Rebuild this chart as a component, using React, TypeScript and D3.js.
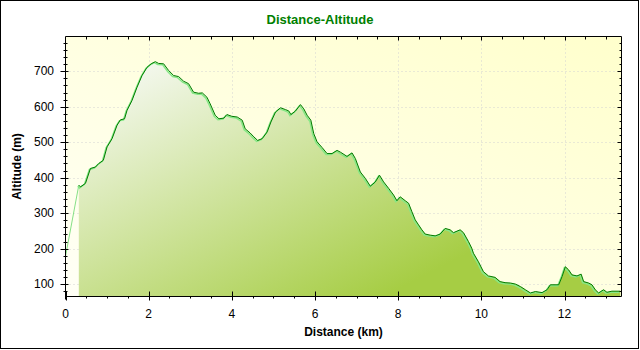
import React, { useEffect, useRef } from 'react';
import * as d3 from 'd3';

// track profile (km, m)
const distKm = [
  0, 0.32, 0.36, 0.48, 0.6, 0.72, 0.8, 0.91, 1.0, 1.12, 1.24, 1.32, 1.42, 1.48, 1.6, 1.72, 1.84, 1.96,
  2.06, 2.16, 2.24, 2.36, 2.48, 2.6, 2.72, 2.84, 2.96, 3.08, 3.2, 3.29, 3.4, 3.48, 3.6, 3.69, 3.81,
  3.88, 4.0, 4.13, 4.25, 4.32, 4.44, 4.53, 4.62, 4.73, 4.85, 4.94, 5.05, 5.17, 5.29, 5.37, 5.42,
  5.53, 5.65, 5.73, 5.81, 5.9, 5.97, 6.05, 6.17, 6.29, 6.41, 6.53, 6.61, 6.77, 6.89, 6.97, 7.09,
  7.21, 7.33, 7.45, 7.55, 7.65, 7.77, 7.89, 7.97, 8.05, 8.17, 8.25, 8.33, 8.41, 8.49, 8.57, 8.65,
  8.77, 8.89, 9.01, 9.13, 9.25, 9.33, 9.49, 9.57, 9.69, 9.77, 9.81, 9.93, 10.05, 10.17, 10.33,
  10.45, 10.57, 10.7, 10.82, 10.94, 11.06, 11.18, 11.3, 11.46, 11.58, 11.66, 11.86, 11.94, 12.02,
  12.1, 12.18, 12.3, 12.4, 12.46, 12.58, 12.66, 12.74, 12.82, 12.94, 13.02, 13.14, 13.34,
];
const altM = [
  178, 379, 374, 384, 426, 430, 440, 449, 487, 510, 548, 563, 566, 590, 618, 655, 688, 711,
  721, 727, 722, 721, 702, 688, 685, 672, 665, 641, 638, 639, 627, 608, 576, 566, 568,
  578, 573, 571, 562, 538, 526, 515, 505, 510, 529, 557, 585, 597, 592, 588, 578,
  588, 606, 594, 576, 562, 524, 501, 485, 468, 468, 477, 472, 460, 470, 454, 416,
  398, 376, 388, 407, 388, 370, 351, 335, 346, 335, 328, 304, 281, 267, 253, 241,
  238, 236, 241, 257, 253, 245, 253, 245, 220, 201, 187, 163, 135, 123, 119,
  107, 104, 103, 100, 93, 84, 75, 79, 76, 84, 98, 98, 121, 149,
  140, 126, 123, 128, 107, 103, 98, 84, 75, 84, 77, 80, 80,
];

const xTicks = [0, 2, 4, 6, 8, 10, 12];
const yTicks = [100, 200, 300, 400, 500, 600, 700];

const font = '"Liberation Sans", Arial, sans-serif';

export default function App() {
  const ref = useRef<SVGSVGElement>(null);

  useEffect(() => {
    const svg = d3.select(ref.current);
    svg.selectAll('*').remove();

    const left = 65.5, right = 621.5, top = 36.5, bottom = 296.5;

    const x = d3.scaleLinear().domain([0, 13.37]).range([left, right]);
    const y = d3.scaleLinear().domain([65, 798]).range([bottom, top]);

    const pts = distKm.map((d, i) => ({ d, a: altM[i] }));
    const body = pts.slice(1);

    const defs = svg.append('defs');
    const bg = defs.append('linearGradient').attr('id', 'bg')
      .attr('x1', 0).attr('y1', 1).attr('x2', 1).attr('y2', 0);
    bg.append('stop').attr('offset', 0).attr('stop-color', '#fffff6');
    bg.append('stop').attr('offset', 1).attr('stop-color', '#ffffcc');

    const fill = defs.append('linearGradient').attr('id', 'fill')
      .attr('gradientUnits', 'userSpaceOnUse')
      .attr('x1', 150).attr('y1', 50).attr('x2', 300).attr('y2', 340);
    fill.append('stop').attr('offset', 0).attr('stop-color', '#f6f9f3');
    fill.append('stop').attr('offset', 1).attr('stop-color', '#a6cd44');

    svg.append('rect').attr('width', 640).attr('height', 350).attr('fill', '#fff');
    svg.append('rect').attr('x', 0.5).attr('y', 0.5).attr('width', 638).attr('height', 348)
      .attr('fill', 'none').attr('stroke', '#000');

    svg.append('rect').attr('x', left).attr('y', top)
      .attr('width', right - left).attr('height', bottom - top).attr('fill', 'url(#bg)');

    // grid
    const grid = svg.append('g').attr('stroke', '#d2d2d2').attr('stroke-dasharray', '1,3');
    grid.selectAll('.gx').data(xTicks.slice(1)).join('line')
      .attr('x1', (d) => Math.round(x(d)) + 0.5).attr('x2', (d) => Math.round(x(d)) + 0.5)
      .attr('y1', top).attr('y2', bottom);
    grid.selectAll('.gy').data(yTicks).join('line')
      .attr('y1', (d) => Math.round(y(d)) + 0.5).attr('y2', (d) => Math.round(y(d)) + 0.5)
      .attr('x1', left).attr('x2', right);

    const area = d3.area<{ d: number; a: number }>()
      .x((p) => x(p.d)).y0(bottom).y1((p) => y(p.a));
    const line = d3.line<{ d: number; a: number }>()
      .x((p) => x(p.d)).y((p) => y(p.a));

    svg.append('path').datum(body).attr('d', area).attr('fill', 'url(#fill)');

    // lead-in segment only in light green
    svg.append('path').datum(pts.slice(0, 2)).attr('d', line)
      .attr('fill', 'none').attr('stroke', '#86e086').attr('stroke-width', 1);

    svg.append('path').datum(body).attr('d', line)
      .attr('transform', 'translate(-1,1)')
      .attr('fill', 'none').attr('stroke', '#86e886').attr('stroke-width', 1.5);
    svg.append('path').datum(body).attr('d', line)
      .attr('fill', 'none').attr('stroke', '#007a00').attr('stroke-width', 1);

    // frame
    const frame = svg.append('g').attr('stroke', '#000').attr('fill', 'none');
    frame.append('line').attr('x1', left).attr('x2', right).attr('y1', top).attr('y2', top);
    frame.append('line').attr('x1', right).attr('x2', right).attr('y1', top).attr('y2', bottom);
    frame.append('line').attr('x1', left).attr('x2', left).attr('y1', top).attr('y2', bottom + 3);
    frame.append('line').attr('x1', left).attr('x2', right).attr('y1', bottom).attr('y2', bottom);

    // ticks
    const yMinor = d3.range(80, 798, 20).filter((v) => v % 100 !== 0);
    const xMinor = d3.range(0.5, 13.37, 0.5).filter((v) => v % 2 !== 0);
    const py = (v: number) => Math.round(y(v)) + 0.5;
    const px = (v: number) => Math.round(x(v)) + 0.5;

    frame.selectAll('.ylm').data(yTicks).join('line')
      .attr('x1', left - 5).attr('x2', left + 3).attr('y1', py).attr('y2', py);
    frame.selectAll('.ylm2').data(yMinor).join('line')
      .attr('x1', left - 2).attr('x2', left + 2).attr('y1', py).attr('y2', py);
    frame.selectAll('.yrm').data(yTicks).join('line')
      .attr('x1', right - 4).attr('x2', right).attr('y1', py).attr('y2', py);
    frame.selectAll('.yrm2').data(yMinor).join('line')
      .attr('x1', right - 2).attr('x2', right).attr('y1', py).attr('y2', py);

    frame.selectAll('.xbm').data(xTicks).join('line')
      .attr('x1', px).attr('x2', px).attr('y1', bottom - 5).attr('y2', bottom + 4);
    frame.selectAll('.xbm2').data(xMinor).join('line')
      .attr('x1', px).attr('x2', px).attr('y1', bottom).attr('y2', bottom + 2);
    frame.selectAll('.xtm').data(xTicks.slice(1)).join('line')
      .attr('x1', px).attr('x2', px).attr('y1', top).attr('y2', top + 4);
    frame.selectAll('.xtm2').data(xMinor).join('line')
      .attr('x1', px).attr('x2', px).attr('y1', top).attr('y2', top + 3);

    // tick labels
    svg.append('g').selectAll('text').data(yTicks).join('text')
      .attr('x', 54).attr('y', (d) => y(d)).attr('dy', '0.35em')
      .attr('text-anchor', 'end').attr('font-family', font).attr('font-size', 12)
      .text((d) => d);
    svg.append('g').selectAll('text').data(xTicks).join('text')
      .attr('x', (d) => x(d)).attr('y', 318).attr('text-anchor', 'middle')
      .attr('font-family', font).attr('font-size', 12)
      .text((d) => d);

    svg.append('text').attr('x', (left + right) / 2).attr('y', 336)
      .attr('text-anchor', 'middle').attr('font-family', font).attr('font-size', 12)
      .attr('font-weight', 'bold').text('Distance (km)');
    svg.append('text').attr('transform', `translate(21, ${(top + bottom) / 2}) rotate(-90)`)
      .attr('text-anchor', 'middle').attr('font-family', font).attr('font-size', 12)
      .attr('font-weight', 'bold').text('Altitude (m)');

    svg.append('text').attr('x', 320).attr('y', 24)
      .attr('text-anchor', 'middle').attr('font-family', font).attr('font-size', 13)
      .attr('font-weight', 'bold').attr('fill', '#008000').text('Distance-Altitude');
  }, []);

  return (
    <svg ref={ref} width={640} height={350}
      style={{ position: 'absolute', left: 0, top: 0 }}></svg>
  );
}
